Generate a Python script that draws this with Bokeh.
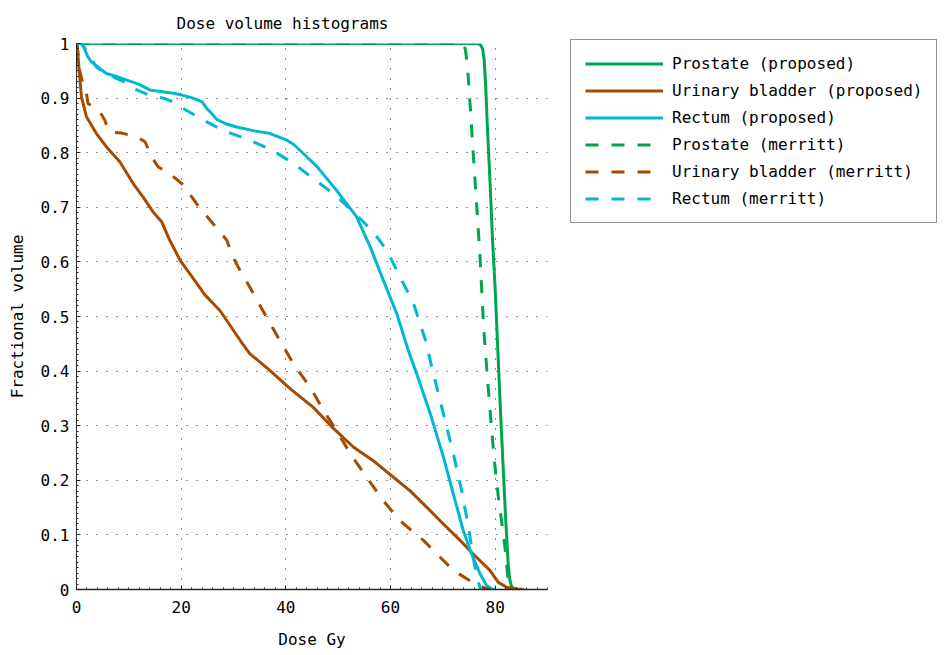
from bokeh.plotting import figure
from bokeh.models import (Range1d, FixedTicker, Legend, LegendItem)
from bokeh.embed import file_html
from bokeh.resources import INLINE

# ---------------- data ----------------
title_text = "Dose volume histograms"
x_label = "Dose Gy"
y_label = "Fractional volume"

x_ticks = [0, 20, 40, 60, 80]
y_ticks = [0, 0.1, 0.2, 0.3, 0.4, 0.5, 0.6, 0.7, 0.8, 0.9, 1]
y_tick_labels = ["0", "0.1", "0.2", "0.3", "0.4", "0.5", "0.6", "0.7", "0.8", "0.9", "1"]

series_names = ["Prostate (proposed)", "Urinary bladder (proposed)", "Rectum (proposed)",
                "Prostate (merritt)", "Urinary bladder (merritt)", "Rectum (merritt)"]

prostate_prop_dose = [0, 76.5, 77.2, 77.6, 77.9, 78.2, 78.5, 79.0, 79.5, 80.0, 80.5, 81.0,
                      81.5, 82.0, 82.5, 82.8, 83.1, 83.5, 84.5]
prostate_prop_vol = [1, 1, 0.998, 0.99, 0.97, 0.92, 0.85, 0.75, 0.64, 0.55, 0.44, 0.33,
                     0.23, 0.13, 0.045, 0.018, 0.006, 0.002, 0]

bladder_prop_dose = [0, 0.1, 0.5, 0.95, 1.9, 3.8, 5.7, 8.3, 10.8, 12.7, 14.6, 16.3, 17.8,
                     19.8, 22.3, 24.5, 27.4, 31.3, 33.1, 37.0, 40.8, 45.2, 49.1, 52.9, 56.7,
                     60.5, 63.7, 66.9, 70.1, 73.3, 75.8, 79.0, 80.6, 82.2, 84.1, 85.5]
bladder_prop_vol = [1, 1, 0.951, 0.902, 0.866, 0.835, 0.811, 0.783, 0.744, 0.719, 0.692,
                    0.673, 0.64, 0.603, 0.57, 0.54, 0.511, 0.456, 0.432, 0.401, 0.368, 0.334,
                    0.295, 0.261, 0.236, 0.206, 0.181, 0.151, 0.12, 0.09, 0.065, 0.035,
                    0.013, 0.004, 0.001, 0]

rectum_prop_dose = [0, 0.8, 1.3, 2.2, 2.9, 4.5, 5.7, 7.5, 9.6, 12, 14, 17.8, 20, 22.3, 24,
                    24.9, 26, 26.8, 28.5, 30.6, 34, 37, 40.2, 41.5, 43.3, 46, 49.7, 53.5,
                    56.1, 58.6, 61.2, 63.4, 65, 67.6, 70.1, 72, 73.9, 75.5, 77.1, 78.4,
                    79.4, 80]
rectum_prop_vol = [1, 1, 0.995, 0.975, 0.966, 0.954, 0.945, 0.94, 0.933, 0.925, 0.915, 0.91,
                   0.906, 0.90, 0.893, 0.881, 0.87, 0.861, 0.853, 0.847, 0.84, 0.835, 0.823,
                   0.815, 0.799, 0.774, 0.731, 0.683, 0.628, 0.567, 0.505, 0.438, 0.395,
                   0.322, 0.243, 0.175, 0.108, 0.065, 0.029, 0.007, 0.001, 0]

prostate_mer_dose = [0, 73.8, 74.3, 74.7, 75.2, 75.8, 76.5, 77.1, 77.8, 78.5, 79.1, 79.8,
                     80.6, 81.3, 81.9, 82.3, 82.6, 83.0]
prostate_mer_vol = [1, 1, 0.99, 0.96, 0.89, 0.80, 0.70, 0.61, 0.48, 0.39, 0.32, 0.24, 0.17,
                    0.12, 0.075, 0.035, 0.008, 0]

bladder_mer_dose = [0, 0.1, 0.6, 1.2, 1.9, 2.2, 3.5, 4.45, 5.4, 6.0, 6.4, 8.6, 11.5, 13.1,
                    14.3, 15.6, 17.8, 20.4, 22.9, 26.1, 28.7, 29.9, 31.2, 33.1, 36.3, 38.5,
                    41.4, 44.6, 47.2, 49.7, 52.3, 55.4, 58.6, 61.8, 66.3, 69.5, 72.0, 75.2,
                    77.7, 79]
bladder_mer_vol = [1, 1, 0.951, 0.927, 0.908, 0.89, 0.882, 0.875, 0.86, 0.843, 0.838, 0.836,
                   0.829, 0.82, 0.793, 0.774, 0.762, 0.741, 0.707, 0.67, 0.64, 0.609, 0.585,
                   0.554, 0.499, 0.462, 0.414, 0.371, 0.328, 0.291, 0.249, 0.206, 0.163,
                   0.126, 0.09, 0.059, 0.035, 0.016, 0.004, 0]

rectum_mer_dose = [0, 1.0, 2.0, 3.8, 5.5, 7.0, 9.0, 11.5, 14, 16.6, 18.5, 20.4, 24.2, 28.0,
                   33.1, 37.3, 41.4, 45.2, 49.1, 52.9, 56.7, 59.3, 61.8, 64.4, 66.7, 68.2,
                   70.1, 72.0, 73.6, 74.9, 75.8, 76.5, 77.2]
rectum_mer_vol = [1, 1, 0.985, 0.957, 0.945, 0.939, 0.93, 0.915, 0.905, 0.90, 0.893, 0.881,
                  0.86, 0.841, 0.823, 0.805, 0.781, 0.753, 0.725, 0.692, 0.655, 0.621, 0.573,
                  0.524, 0.456, 0.395, 0.322, 0.249, 0.181, 0.114, 0.059, 0.023, 0]

# ---------------- styling ----------------
GREEN = "#00a54f"
BROWN = "#a64b00"
CYAN = "#00b8d4"
FONT = "DejaVu Sans Mono"
FS = "16px"
AX = "#262626"

p = figure(frame_width=471, frame_height=546,
           min_border_left=76, min_border_right=389, min_border_top=43, min_border_bottom=63,
           x_range=Range1d(0, 90), y_range=Range1d(0, 1),
           output_backend="svg", toolbar_location=None, tools="")

p.outline_line_color = None
p.background_fill_color = "white"
p.border_fill_color = "white"

p.title.text = title_text
p.title.align = "left"
p.title.offset = 100
p.title.text_font = FONT
p.title.text_font_size = FS
p.title.text_font_style = "normal"
p.title.text_color = "black"
p.title.standoff = 22

x_minor = [i * 2 for i in range(46)]
y_minor = [i / 100 for i in range(101)]
p.xaxis.ticker = FixedTicker(ticks=x_ticks, minor_ticks=x_minor)
p.yaxis.ticker = FixedTicker(ticks=y_ticks, minor_ticks=y_minor)
p.yaxis.major_label_overrides = {t: l for t, l in zip(y_ticks, y_tick_labels)}

p.xaxis.axis_label = x_label
p.yaxis.axis_label = y_label
for ax in (p.xaxis, p.yaxis):
    ax.axis_label_text_font = FONT
    ax.axis_label_text_font_size = FS
    ax.axis_label_text_font_style = "normal"
    ax.axis_label_text_color = "black"
    ax.major_label_text_font = FONT
    ax.major_label_text_font_size = FS
    ax.major_label_text_color = "black"
    ax.axis_line_color = AX
    ax.major_tick_line_color = AX
    ax.minor_tick_line_color = AX
    ax.major_tick_in = 4
    ax.major_tick_out = 0
    ax.minor_tick_in = 2
    ax.minor_tick_out = 0
p.xaxis.axis_line_width = 1.5
p.xaxis.major_label_standoff = 11
p.xaxis.axis_label_standoff = 14
p.yaxis.major_label_standoff = 7
p.yaxis.axis_label_standoff = 11

for g in (p.xgrid, p.ygrid):
    g.grid_line_color = "#222222"
    g.grid_line_width = 1
    g.grid_line_dash = "1 9"
p.xgrid.ticker = FixedTicker(ticks=x_ticks)
p.ygrid.ticker = FixedTicker(ticks=y_ticks)

LW = 3
r1 = p.line(prostate_prop_dose, prostate_prop_vol, line_color=GREEN, line_width=LW, line_join="round")
r2 = p.line(bladder_prop_dose, bladder_prop_vol, line_color=BROWN, line_width=LW, line_join="round")
r3 = p.line(rectum_prop_dose, rectum_prop_vol, line_color=CYAN, line_width=LW, line_join="round")
r4 = p.line(prostate_mer_dose, prostate_mer_vol, line_color=GREEN, line_width=LW, line_dash="13 13")
r5 = p.line(bladder_mer_dose, bladder_mer_vol, line_color=BROWN, line_width=LW, line_dash="13 13")
r6 = p.line(rectum_mer_dose, rectum_mer_vol, line_color=CYAN, line_width=LW, line_dash="13 13")

items = [LegendItem(label=n, renderers=[r]) for n, r in zip(series_names, [r1, r2, r3, r4, r5, r6])]
legend = Legend(items=items, location=(23, 366), margin=0, padding=14,
                glyph_width=78, glyph_height=19, label_height=19, spacing=8, label_standoff=9,
                label_text_font=FONT, label_text_font_size=FS, label_text_color="black",
                border_line_color=AX, border_line_width=1.5,
                background_fill_color="white", background_fill_alpha=1)
p.add_layout(legend, "right")

open("out.html", "w").write(file_html(p, INLINE))
